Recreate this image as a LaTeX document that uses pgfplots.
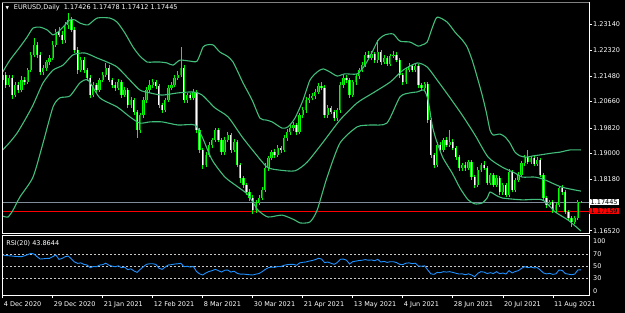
\documentclass[border=0pt]{standalone}
\usepackage{pgfplots}
\pgfplotsset{compat=1.18}
\usepackage{pgfplotstable}
\usepackage{fontspec}
\setmainfont{DejaVu Sans}
\definecolor{bandc}{RGB}{66,190,124}
\definecolor{candle}{RGB}{0,255,0}
\definecolor{bullcore}{RGB}{0,140,0}
\definecolor{bidline}{RGB}{128,140,155}
\definecolor{rsic}{RGB}{30,144,255}
\definecolor{lvl}{RGB}{200,200,200}
\newcommand{\lbl}{\fontsize{6.5bp}{7.8bp}\selectfont}

\pgfplotstableread{
i o h l c
0 1.2135 1.2162 1.2125 1.2151
1 1.2151 1.2160 1.2110 1.2119
2 1.2119 1.2150 1.2112 1.2142
3 1.2142 1.2150 1.2075 1.2087
4 1.2087 1.2128 1.2080 1.2119
5 1.2119 1.2130 1.2095 1.2103
6 1.2103 1.2148 1.2096 1.2135
7 1.2135 1.2145 1.2120 1.2129
8 1.2129 1.2175 1.2122 1.2167
9 1.2167 1.2226 1.2160 1.2216
10 1.2216 1.2270 1.2208 1.2248
11 1.2248 1.2258 1.2205 1.2216
12 1.2216 1.2225 1.2150 1.2161
13 1.2161 1.2185 1.2150 1.2174
14 1.2174 1.2200 1.2165 1.2193
15 1.2193 1.2215 1.2185 1.2206
16 1.2206 1.2260 1.2198 1.2248
17 1.2248 1.2300 1.2240 1.2289
18 1.2289 1.2305 1.2272 1.2280
19 1.2280 1.2292 1.2250 1.2264
20 1.2264 1.2322 1.2255 1.2312
21 1.2312 1.2350 1.2300 1.2328
22 1.2328 1.2338 1.2288 1.2296
23 1.2296 1.2305 1.2222 1.2232
24 1.2232 1.2240 1.2155 1.2167
25 1.2167 1.2210 1.2160 1.2199
26 1.2199 1.2208 1.2158 1.2167
27 1.2167 1.2175 1.2132 1.2142
28 1.2142 1.2150 1.2078 1.2087
29 1.2087 1.2128 1.2080 1.2119
30 1.2119 1.2126 1.2095 1.2103
31 1.2103 1.2142 1.2096 1.2135
32 1.2135 1.2160 1.2128 1.2151
33 1.2151 1.2190 1.2145 1.2174
34 1.2174 1.2182 1.2128 1.2135
35 1.2135 1.2142 1.2110 1.2119
36 1.2119 1.2128 1.2100 1.2110
37 1.2110 1.2138 1.2102 1.2129
38 1.2129 1.2136 1.2078 1.2087
39 1.2087 1.2112 1.2080 1.2103
40 1.2103 1.2110 1.2045 1.2055
41 1.2055 1.2080 1.2046 1.2071
42 1.2071 1.2078 1.2022 1.2033
43 1.2033 1.2040 1.1949 1.1975
44 1.1975 1.2030 1.1965 1.2023
45 1.2023 1.2080 1.2015 1.2071
46 1.2071 1.2112 1.2062 1.2103
47 1.2103 1.2135 1.2095 1.2119
48 1.2119 1.2140 1.2110 1.2129
49 1.2129 1.2136 1.2108 1.2116
50 1.2116 1.2122 1.2045 1.2055
51 1.2055 1.2062 1.2030 1.2039
52 1.2039 1.2078 1.2032 1.2071
53 1.2071 1.2118 1.2065 1.2110
54 1.2110 1.2130 1.2102 1.2119
55 1.2119 1.2150 1.2112 1.2142
56 1.2142 1.2165 1.2135 1.2151
57 1.2151 1.2241 1.2145 1.2174
58 1.2174 1.2182 1.2062 1.2071
59 1.2071 1.2095 1.2062 1.2087
60 1.2087 1.2095 1.2070 1.2078
61 1.2078 1.2105 1.2070 1.2097
62 1.2097 1.2103 1.1965 1.1975
63 1.1975 1.1982 1.1900 1.1911
64 1.1911 1.1918 1.1850 1.1863
65 1.1863 1.1903 1.1855 1.1895
66 1.1895 1.1936 1.1888 1.1927
67 1.1927 1.1950 1.1918 1.1943
68 1.1943 1.1983 1.1935 1.1975
69 1.1975 1.1982 1.1936 1.1943
70 1.1943 1.1950 1.1895 1.1904
71 1.1904 1.1952 1.1896 1.1943
72 1.1943 1.1968 1.1935 1.1959
73 1.1959 1.1966 1.1902 1.1911
74 1.1911 1.1945 1.1903 1.1936
75 1.1936 1.1943 1.1855 1.1863
76 1.1863 1.1870 1.1805 1.1821
77 1.1821 1.1828 1.1790 1.1799
78 1.1799 1.1806 1.1768 1.1776
79 1.1776 1.1785 1.1748 1.1757
80 1.1757 1.1765 1.1705 1.1718
81 1.1718 1.1750 1.1710 1.1741
82 1.1741 1.1766 1.1733 1.1757
83 1.1757 1.1792 1.1750 1.1783
84 1.1783 1.1870 1.1775 1.1853
85 1.1853 1.1893 1.1845 1.1885
86 1.1885 1.1912 1.1878 1.1904
87 1.1904 1.1915 1.1886 1.1895
88 1.1895 1.1926 1.1888 1.1917
89 1.1917 1.1925 1.1902 1.1911
90 1.1911 1.1958 1.1903 1.1949
91 1.1949 1.1978 1.1940 1.1969
92 1.1969 1.1990 1.1960 1.1981
93 1.1981 1.2000 1.1972 1.1991
94 1.1991 1.1998 1.1960 1.1969
95 1.1969 1.2030 1.1962 1.2023
96 1.2023 1.2048 1.2015 1.2039
97 1.2039 1.2080 1.2030 1.2071
98 1.2071 1.2090 1.2062 1.2078
99 1.2078 1.2095 1.2070 1.2084
100 1.2084 1.2106 1.2076 1.2097
101 1.2097 1.2125 1.2090 1.2116
102 1.2116 1.2128 1.2102 1.2110
103 1.2110 1.2118 1.2015 1.2023
104 1.2023 1.2055 1.2015 1.2046
105 1.2046 1.2053 1.2025 1.2033
106 1.2033 1.2040 1.2003 1.2013
107 1.2013 1.2046 1.2005 1.2039
108 1.2039 1.2128 1.2030 1.2119
109 1.2119 1.2150 1.2110 1.2142
110 1.2142 1.2152 1.2126 1.2135
111 1.2135 1.2142 1.2078 1.2087
112 1.2087 1.2136 1.2080 1.2129
113 1.2129 1.2156 1.2120 1.2148
114 1.2148 1.2175 1.2140 1.2167
115 1.2167 1.2192 1.2160 1.2183
116 1.2183 1.2225 1.2176 1.2216
117 1.2216 1.2228 1.2198 1.2206
118 1.2206 1.2228 1.2198 1.2219
119 1.2219 1.2226 1.2190 1.2199
120 1.2199 1.2264 1.2190 1.2225
121 1.2225 1.2232 1.2185 1.2193
122 1.2193 1.2215 1.2186 1.2206
123 1.2206 1.2213 1.2180 1.2187
124 1.2187 1.2220 1.2180 1.2212
125 1.2212 1.2228 1.2205 1.2216
126 1.2216 1.2225 1.2192 1.2199
127 1.2199 1.2206 1.2142 1.2151
128 1.2151 1.2158 1.2120 1.2129
129 1.2129 1.2175 1.2122 1.2167
130 1.2167 1.2190 1.2160 1.2180
131 1.2180 1.2188 1.2160 1.2167
132 1.2167 1.2188 1.2160 1.2180
133 1.2180 1.2187 1.2110 1.2119
134 1.2119 1.2126 1.2102 1.2110
135 1.2110 1.2130 1.2103 1.2123
136 1.2123 1.2130 1.1998 1.2007
137 1.2007 1.2013 1.1885 1.1895
138 1.1895 1.1902 1.1852 1.1863
139 1.1863 1.1935 1.1855 1.1927
140 1.1927 1.1936 1.1903 1.1911
141 1.1911 1.1950 1.1903 1.1943
142 1.1943 1.1952 1.1920 1.1927
143 1.1927 1.1975 1.1920 1.1936
144 1.1936 1.1945 1.1910 1.1917
145 1.1917 1.1925 1.1880 1.1888
146 1.1888 1.1895 1.1845 1.1853
147 1.1853 1.1870 1.1845 1.1863
148 1.1863 1.1872 1.1845 1.1853
149 1.1853 1.1880 1.1846 1.1872
150 1.1872 1.1880 1.1816 1.1824
151 1.1824 1.1830 1.1790 1.1799
152 1.1799 1.1855 1.1792 1.1847
153 1.1847 1.1870 1.1840 1.1863
154 1.1863 1.1875 1.1846 1.1853
155 1.1853 1.1860 1.1798 1.1805
156 1.1805 1.1838 1.1798 1.1831
157 1.1831 1.1838 1.1792 1.1799
158 1.1799 1.1830 1.1792 1.1821
159 1.1821 1.1828 1.1768 1.1776
160 1.1776 1.1806 1.1768 1.1799
161 1.1799 1.1806 1.1760 1.1767
162 1.1767 1.1850 1.1760 1.1840
163 1.1840 1.1847 1.1775 1.1783
164 1.1783 1.1822 1.1775 1.1815
165 1.1815 1.1840 1.1808 1.1831
166 1.1831 1.1877 1.1824 1.1869
167 1.1869 1.1896 1.1860 1.1888
168 1.1888 1.1911 1.1865 1.1872
169 1.1872 1.1893 1.1866 1.1885
170 1.1885 1.1892 1.1858 1.1866
171 1.1866 1.1887 1.1860 1.1879
172 1.1879 1.1886 1.1824 1.1831
173 1.1831 1.1838 1.1750 1.1757
174 1.1757 1.1762 1.1726 1.1734
175 1.1734 1.1752 1.1727 1.1744
176 1.1744 1.1750 1.1710 1.1718
177 1.1718 1.1742 1.1710 1.1734
178 1.1734 1.1796 1.1728 1.1789
179 1.1789 1.1798 1.1768 1.1776
180 1.1776 1.1782 1.1705 1.1712
181 1.1712 1.1718 1.1686 1.1693
182 1.1693 1.1700 1.1664 1.1680
183 1.1680 1.1700 1.1672 1.1693
184 1.1693 1.1750 1.1685 1.17426
185 1.17426 1.17478 1.17412 1.17445
}\ohlc

\pgfplotstableread{
i v
0 1.2161
2.3 1.2199
5.5 1.2241
7.8 1.2273
9.7 1.2302
11.9 1.2305
14.2 1.2296
16.1 1.2280
17.7 1.2289
19.3 1.2305
21.5 1.2328
23.1 1.2328
24.7 1.2318
27.3 1.2312
30.2 1.2334
34.3 1.2334
36.6 1.2321
39.1 1.2286
41.7 1.2241
43.9 1.2212
46.2 1.2193
48.1 1.2193
50.3 1.2193
52.6 1.2190
54.5 1.2183
56.7 1.2199
59.9 1.2196
62.2 1.2196
64.1 1.2241
65.4 1.2248
67.3 1.2248
69.5 1.2225
71.8 1.2212
73.7 1.2193
76.9 1.2126
79.8 1.2071
82.3 1.2013
84.3 1.2007
86.2 1.2001
89.4 1.1981
91.3 1.1985
93.5 1.2013
96.1 1.2071
98.3 1.2135
100.6 1.2161
102.5 1.2171
104.7 1.2161
107.0 1.2148
109.5 1.2155
113.4 1.2155
115.9 1.2183
118.2 1.2225
120.2 1.2264
122.3 1.2280
124.9 1.2283
127.1 1.2260
130.3 1.2257
132.9 1.2244
134.2 1.2248
135.8 1.2257
137.4 1.2302
139.0 1.2337
142.2 1.2321
144.7 1.2289
147.0 1.2264
148.6 1.2241
150.2 1.2199
151.8 1.2145
153.4 1.2087
154.7 1.2033
155.9 1.1975
156.9 1.1959
159.1 1.1962
160.7 1.1953
162.3 1.1933
163.9 1.1904
165.5 1.1892
167.5 1.1888
169.7 1.1892
171.9 1.1895
175.8 1.1901
178.3 1.1904
181.5 1.1911
185 1.1911
}\upperband

\pgfplotstableread{
i v
0 1.1911
2.3 1.1936
4.6 1.1965
7.1 1.2007
9.7 1.2055
12.9 1.2126
16.1 1.2167
19.3 1.2183
22.5 1.2216
26.3 1.2222
30.2 1.2206
33.4 1.2193
36.6 1.2177
40.7 1.2135
43.9 1.2103
47.1 1.2094
51.0 1.2087
56.1 1.2094
60.9 1.2097
63.8 1.2087
67.9 1.2046
72.1 1.2017
76.6 1.1953
80.7 1.1901
84.6 1.1856
88.1 1.1847
93.5 1.1844
97.4 1.1872
102.5 1.1936
107.9 1.2007
113.4 1.2062
118.5 1.2094
124.0 1.2129
128.1 1.2167
132.6 1.2190
135.8 1.2177
139.0 1.2135
142.5 1.2087
147.0 1.2023
151.1 1.1959
155.3 1.1888
159.8 1.1856
163.9 1.1837
166.2 1.1824
170.3 1.1824
173.5 1.1815
178.8 1.1792
185 1.1779
}\midband

\pgfplotstableread{
i v
0 1.1699
1.7 1.1696
3.3 1.1718
5.5 1.1760
9.7 1.1824
12.9 1.1933
16.1 1.2049
18.3 1.2078
21.5 1.2084
24.7 1.2126
27.3 1.2135
31.1 1.2078
36.6 1.2049
40.7 1.2017
43.9 1.1997
47.1 1.2001
51.0 1.2001
56.1 1.1991
61.5 1.1991
63.8 1.1953
67.0 1.1879
71.1 1.1824
75.3 1.1792
78.5 1.1767
81.7 1.1718
84.9 1.1696
89.4 1.1702
93.5 1.1686
95.1 1.1677
98.3 1.1680
100.6 1.1718
103.8 1.1824
107.9 1.1933
113.4 1.1985
117.5 1.1991
122.9 1.1997
127.1 1.2081
130.3 1.2094
132.6 1.2097
134.8 1.2103
136.1 1.2071
137.4 1.1991
138.7 1.1943
140.9 1.1885
143.8 1.1837
146.3 1.1789
148.9 1.1751
151.1 1.1738
153.4 1.1741
155.0 1.1757
155.9 1.1776
157.6 1.1767
159.8 1.1757
166.2 1.1751
172.6 1.1751
176.8 1.1712
180.9 1.1686
185 1.1651
}\lowerband

\pgfplotstableread{
i r
0 68.8
1 68.0
2 67.5
3 67.1
4 66.5
5 66.2
6 66.0
7 67.5
8 69.5
9 71.6
10 70.5
11 66
12 62
13 62.5
14 63
15 63.2
16 66
17 68.8
18 61.5
19 63
20 66
21 67.1
22 62
23 57
24 54.7
25 55.5
26 53
27 51.9
28 47.4
29 49.5
30 49
31 51.9
32 52.5
33 55
34 51.5
35 50
36 49.1
37 50.5
38 47.4
39 48.5
40 44
41 45.5
42 42
43 39.5
44 44.6
45 49
46 53.1
47 54
48 54
49 53
50 46.5
51 44.6
52 48.5
53 52
54 52.5
55 53.6
56 54
57 54.7
58 49.1
59 49.8
60 48.5
61 49.5
62 41
63 37
64 35.1
65 38.5
66 41
67 42.4
68 44.6
69 42.5
70 40
71 43
72 43.5
73 40
74 41.5
75 38
76 36.5
77 36.7
78 36
79 35.5
80 35.1
81 36.5
82 37.5
83 40.7
84 44.5
85 47.4
86 48.5
87 48
88 49.5
89 49.3
90 51.5
91 52.5
92 53
93 53.1
94 51.5
95 55.5
96 56.5
97 57
98 58.5
99 59.5
100 61
101 63.2
102 62
103 56
104 57
105 55
106 53.1
107 55.9
108 61.5
109 62
110 60
111 53.6
112 57.6
113 58.5
114 59.5
115 60
116 61
117 60
118 60.5
119 59.2
120 61.5
121 57
122 58
123 56.4
124 57.5
125 57.5
126 56
127 53.1
128 52.5
129 55
130 55.5
131 54.2
132 55
133 50.2
134 49.8
135 50.5
136 43.5
137 37
138 36.2
139 39.5
140 39
141 40.7
142 40
143 40.7
144 39.5
145 38
146 36.7
147 37
148 35.5
149 37
150 35.1
151 32.2
152 37.9
153 40.7
154 40
155 37.5
156 39
157 37.5
158 40.7
159 37.2
160 38.5
161 36.7
162 42.4
163 38.5
164 41
165 42.5
166 46.3
167 49.1
168 47.5
169 48.5
170 47
171 47.5
172 43.5
173 38.5
174 37
175 37.8
176 36.2
177 37
178 43.5
179 42.8
180 37.5
181 36.5
182 35.5
183 36.5
184 43.5
185 43.86
}\rsi

\begin{document}
\begin{tikzpicture}
\fill[black] (0,0) rectangle (625bp,-313bp);
\useasboundingbox (0,0) rectangle (625bp,-313bp);

% ---------------- main price panel ----------------
\begin{axis}[
  at={(2bp,-2bp)}, anchor=north west,
  scale only axis, width=587bp, height=231.3bp,
  xmin=-0.224, xmax=187.58,
  ymin=1.16437, ymax=1.23855,
  clip=false,
  axis line style={draw=none},
  xtick=\empty,
  ytick={1.1652,1.1818,1.1900,1.1982,1.2066,1.2148,1.2232,1.2314},
  yticklabels={1.16520,1.18180,1.19000,1.19820,1.20660,1.21480,1.22320,1.23140},
  ytick pos=right, yticklabel pos=right,
  tick align=outside, major tick length=3bp,
  ytick style={white, line width=0.6bp},
  yticklabel style={font=\lbl, text=white, anchor=west, inner sep=0pt, xshift=1bp},
]
% horizontal price lines
\addplot[bidline, line width=0.7bp] coordinates {(-0.224,1.17445) (187.58,1.17445)};
\addplot[red, line width=0.55bp] coordinates {(-0.224,1.17159) (187.58,1.17159)};
% wicks
\addplot[draw=none, mark=none, error bars/.cd, y dir=plus, y explicit, error mark=none,
  error bar style={draw=candle, line width=0.7bp}]
  table[x=i, y=l, y error expr=\thisrow{h}-\thisrow{l}] {\ohlc};
% bodies (outline colour)
\addplot[draw=none, mark=none, error bars/.cd, y dir=plus, y explicit, error mark=none,
  error bar style={draw=candle, line width=2.3bp}]
  table[x=i, y expr={min(\thisrow{o},\thisrow{c})}, y error expr={abs(\thisrow{c}-\thisrow{o})}] {\ohlc};
% bear cores (white)
\addplot[draw=none, mark=none, restrict expr to domain={\thisrow{o}-\thisrow{c}}{0.00001:1},
  error bars/.cd, y dir=plus, y explicit, error mark=none,
  error bar style={draw=white, line width=1bp}]
  table[x=i, y=c, y error expr={\thisrow{o}-\thisrow{c}}] {\ohlc};
% bull cores (dark green)
\addplot[draw=none, mark=none, restrict expr to domain={\thisrow{c}-\thisrow{o}}{0.00001:1},
  error bars/.cd, y dir=plus, y explicit, error mark=none,
  error bar style={draw=bullcore, line width=0.9bp}]
  table[x=i, y=o, y error expr={\thisrow{c}-\thisrow{o}}] {\ohlc};
% Bollinger bands
\addplot[bandc, line width=1.1bp, smooth, tension=0.4] table[x=i,y=v] {\upperband};
\addplot[bandc, line width=1.1bp, smooth, tension=0.4] table[x=i,y=v] {\midband};
\addplot[bandc, line width=1.1bp, smooth, tension=0.4] table[x=i,y=v] {\lowerband};
% frame
\draw[white, line width=0.8bp] (rel axis cs:0,1) -- (rel axis cs:0,0) -- (rel axis cs:1,0) -- (rel axis cs:1,1);
\draw[gray, line width=0.8bp] (rel axis cs:0,1) -- (rel axis cs:1,1);
% price boxes
\node[fill=white, text=black, anchor=west, inner xsep=1.5bp, inner ysep=0.8bp, font=\lbl] at (axis cs:187.58,1.17445) {1.17445};
\node[fill=red, text=black, anchor=west, inner xsep=1.5bp, inner ysep=0.8bp, font=\lbl] at (axis cs:187.58,1.17159) {1.17159};
% header
\node[anchor=west, text=white, inner sep=0pt, font=\fontsize{4.5bp}{5bp}\selectfont] at (rel axis cs:0.006,0.974) {▼};
\node[anchor=west, text=white, inner sep=0pt, font=\lbl] at (rel axis cs:0.020,0.974) {EURUSD,Daily\ \ 1.17426 1.17478 1.17412 1.17445};
\end{axis}

% ---------------- RSI panel ----------------
\begin{axis}[
  at={(2bp,-235.7bp)}, anchor=north west,
  scale only axis, width=587bp, height=59.6bp,
  xmin=-0.224, xmax=187.58,
  ymin=0.8, ymax=101.4,
  clip=false,
  axis line style={draw=none},
  xtick={0,16,32,48,64,80,96,112,128,144,160,176},
  xticklabels={4 Dec 2020,29 Dec 2020,21 Jan 2021,12 Feb 2021,8 Mar 2021,30 Mar 2021,21 Apr 2021,13 May 2021,4 Jun 2021,28 Jun 2021,20 Jul 2021,11 Aug 2021},
  xtick pos=left,
  tick align=outside, major tick length=3bp,
  xtick style={white, line width=0.6bp},
  xticklabel style={font=\lbl, text=white, anchor=north west, inner sep=0pt, xshift=1bp, yshift=-3.5bp},
  ytick={7.55,30,50,70,92.95},
  yticklabels={0,30,50,70,100},
  ytick pos=right, yticklabel pos=right,
  ytick style={draw=none},
  yticklabel style={font=\lbl, text=white, anchor=west, inner sep=0pt, xshift=1bp},
]
\addplot[lvl, line width=0.6bp, dash pattern=on 2bp off 2bp] coordinates {(-0.224,70) (187.58,70)};
\addplot[lvl, line width=0.6bp, dash pattern=on 2bp off 2bp] coordinates {(-0.224,50) (187.58,50)};
\addplot[lvl, line width=0.6bp, dash pattern=on 2bp off 2bp] coordinates {(-0.224,30) (187.58,30)};
\addplot[rsic, line width=0.9bp] table[x=i,y=r] {\rsi};
\draw[white, line width=0.8bp] (rel axis cs:0,0) rectangle (rel axis cs:1,1);
\node[anchor=west, text=white, inner sep=0pt, font=\lbl] at (rel axis cs:0.007,0.875) {RSI(20) 43.8644};
\end{axis}
\end{tikzpicture}
\end{document}
